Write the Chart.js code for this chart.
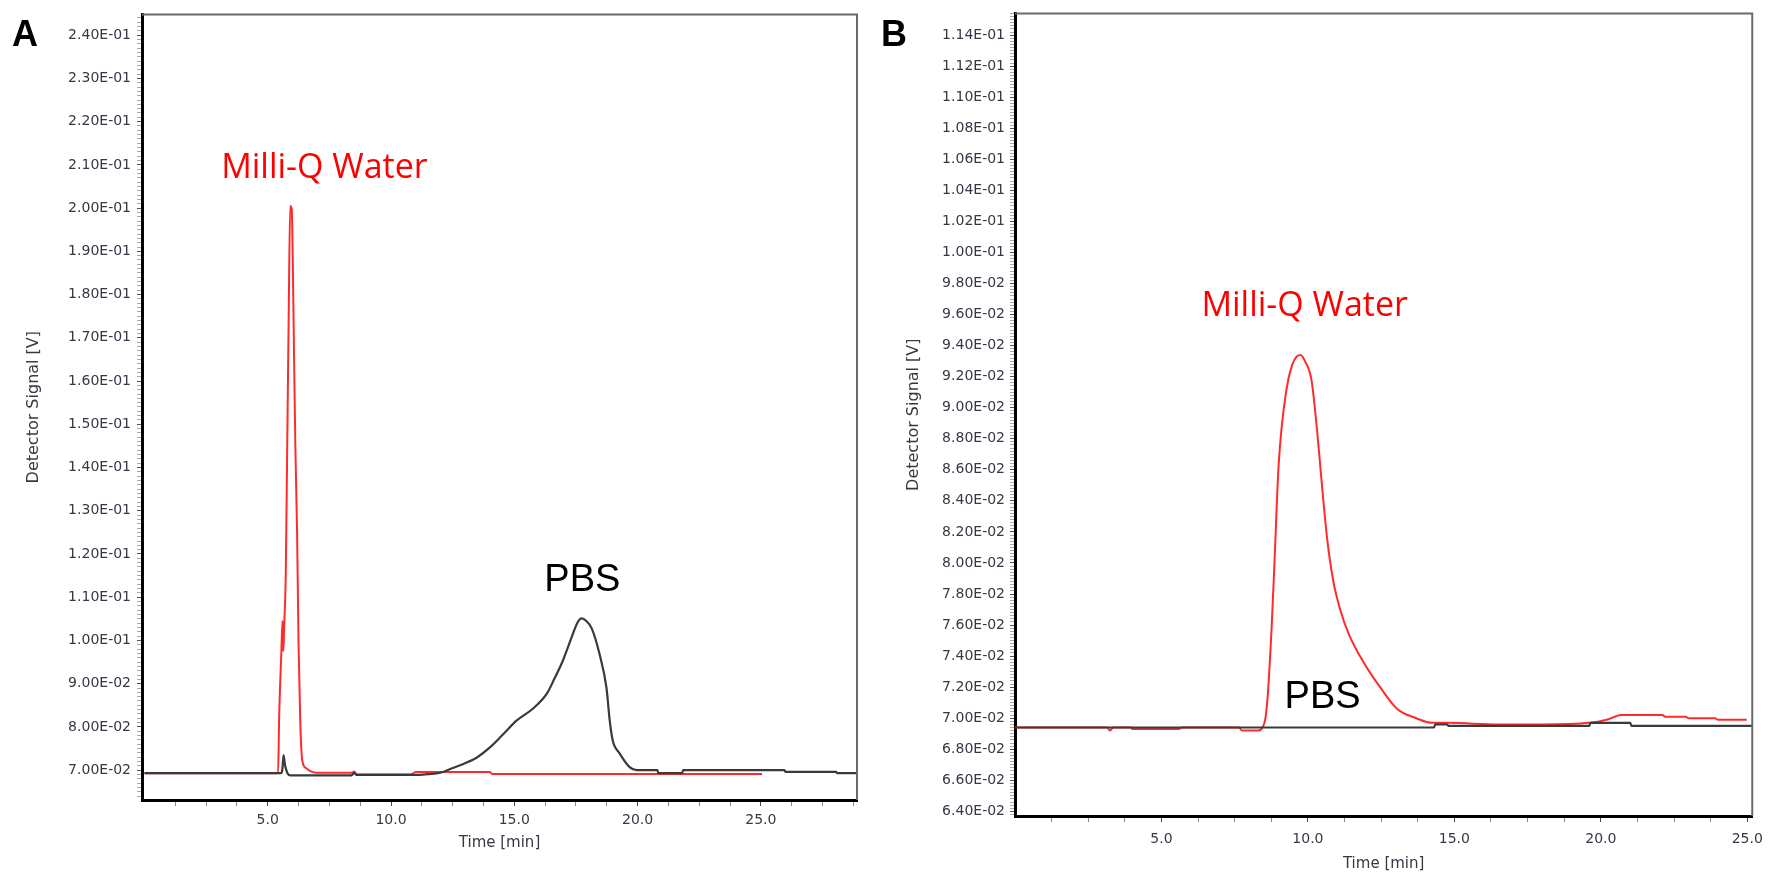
<!DOCTYPE html>
<html>
<head>
<meta charset="utf-8">
<script src="https://cdn.jsdelivr.net/npm/chart.js@4.4.1/dist/chart.umd.min.js"></script>
<style>
  html, body { margin: 0; padding: 0; background: #fff; }
  body { width: 1772px; height: 873px; position: relative; overflow: hidden; }
  canvas { position: absolute; top: 0; }
  #chartA { left: 0; }
  #chartB { left: 880px; }
</style>
</head>
<body>
<canvas id="chartA" width="880" height="873" style="width:880px;height:873px"></canvas>
<canvas id="chartB" width="892" height="873" style="width:892px;height:873px"></canvas>
<script>
// tick labels
const xMajorTicks = [5, 10, 15, 20, 25];
const aTicksY = [0.07, 0.08, 0.09, 0.10, 0.11, 0.12, 0.13, 0.14, 0.15, 0.16, 0.17, 0.18, 0.19, 0.20, 0.21, 0.22, 0.23, 0.24];
const bTicksY = [0.064, 0.066, 0.068, 0.070, 0.072, 0.074, 0.076, 0.078, 0.080, 0.082, 0.084, 0.086, 0.088,
                 0.090, 0.092, 0.094, 0.096, 0.098, 0.100, 0.102, 0.104, 0.106, 0.108, 0.110, 0.112, 0.114];

// panel A - PBS (black)
const aBlackT = [0, 5.55, 5.60, 5.64, 5.70, 5.80, 5.92, 8.40, 8.50, 8.60, 11.0, 11.5, 12.0, 12.5, 13.0, 13.5, 14.0, 14.5,
                 15.1, 15.75, 16.32, 16.64, 16.96, 17.37, 17.55, 17.73, 17.92, 18.14, 18.46, 18.74, 18.87, 18.99, 19.27, 19.68, 19.96,
                 20.8, 20.85, 21.8, 21.85, 25.95, 26.0, 28.05, 28.1, 28.9];
const aBlackV = [0.0693, 0.0693, 0.0705, 0.0735, 0.0712, 0.0693, 0.0688, 0.0688, 0.0694, 0.0689, 0.0689, 0.0691, 0.0694, 0.0705, 0.0716, 0.0730, 0.0752, 0.0780,
                 0.0815, 0.0842, 0.0877, 0.0913, 0.0952, 0.1014, 0.1040, 0.1051, 0.1045, 0.1028, 0.0968, 0.0890, 0.0815, 0.0769, 0.0739, 0.0707, 0.0700,
                 0.0700, 0.0693, 0.0693, 0.0700, 0.0700, 0.0696, 0.0696, 0.0693, 0.0693];

// panel A - Milli-Q Water (red)
const aRedT = [0, 5.42, 5.46, 5.55, 5.60, 5.63, 5.67, 5.73, 5.79, 5.85, 5.91, 5.97, 6.01, 6.05, 6.12, 6.19, 6.25, 6.32, 6.40, 6.55,
               6.75, 7.0, 8.42, 8.50, 8.62, 10.8, 11.0, 14.0, 14.1, 25.05];
const aRedV = [0.0693, 0.0693, 0.0815, 0.0970, 0.1045, 0.0975, 0.1040, 0.1150, 0.1450, 0.1750, 0.2005, 0.2000, 0.1900, 0.1730, 0.1450, 0.1250, 0.0990, 0.0810, 0.0723, 0.0705,
               0.0697, 0.0694, 0.0694, 0.0697, 0.0690, 0.0690, 0.0696, 0.0696, 0.0691, 0.0691];

// panel B - PBS (black)
const bBlackT = [0, 14.3, 14.35, 14.75, 14.8, 19.6, 19.65, 21.0, 21.05, 25.17];
const bBlackV = [0.0694, 0.0694, 0.0696, 0.0696, 0.0695, 0.0695, 0.0697, 0.0697, 0.0695, 0.0695];

// panel B - Milli-Q Water (red)
const bRedT = [0, 3.15, 3.24, 3.35, 3.95, 4.0, 5.6, 5.7, 7.65, 7.75, 8.3, 8.45, 8.55, 8.63, 8.76, 8.86, 9.0, 9.27, 9.47, 9.62,
               9.75, 9.90, 10.12, 10.30, 10.48, 10.66, 10.86, 11.1, 11.4, 11.9, 12.5, 13.05, 13.7, 14.25, 14.8, 16.5, 18.0, 19.6, 20.2,
               20.7, 22.1, 22.2, 22.9, 23.0, 23.9, 24.0, 24.98];
const bRedV = [0.0694, 0.0694, 0.0692, 0.0694, 0.0694, 0.0693, 0.0693, 0.0694, 0.0694, 0.0692, 0.0692, 0.0694, 0.0700, 0.0715, 0.0758, 0.0801, 0.0863, 0.0912, 0.0928, 0.0933,
               0.0934, 0.0930, 0.0918, 0.0888, 0.0850, 0.0815, 0.0789, 0.0770, 0.0754, 0.0736, 0.0719, 0.0706, 0.0700, 0.0697, 0.0697, 0.0696, 0.0696, 0.0697, 0.0699,
               0.0702, 0.0702, 0.0701, 0.0701, 0.0700, 0.0700, 0.0699, 0.0699];

const RED = '#ff2b2b';
const DARK = '#3a3a3a';
const TICK_TXT = '#3b3645';

function isIn(list, v) { return list.some(t => Math.abs(t - v) < 1e-9); }

function sci(v) {
  const parts = v.toExponential(2).split('e');
  const n = parseInt(parts[1], 10);
  return parts[0] + 'E' + (n < 0 ? '-' : '+') + String(Math.abs(n)).padStart(2, '0');
}

function stepTicks(min, max, step) {
  const out = [];
  const k0 = Math.ceil(min / step - 1e-9), k1 = Math.floor(max / step + 1e-9);
  for (let k = k0; k <= k1; k++) out.push(Math.round(k * step * 1e7) / 1e7);
  return out;
}

function toPoints(ts, vs) { return ts.map((t, i) => ({ x: t, y: vs[i] })); }

// top/right frame + text labels
const framePlugin = {
  id: 'frame',
  afterDraw(chart, args, opts) {
    const { ctx, chartArea: { left, top, right, bottom } } = chart;
    ctx.save();
    ctx.strokeStyle = '#6a6a6a';
    ctx.lineWidth = 2;
    ctx.beginPath();
    ctx.moveTo(left, top);
    ctx.lineTo(right, top);
    ctx.lineTo(right, bottom);
    ctx.stroke();
    const xs = chart.scales.x, ys = chart.scales.y;
    ctx.textAlign = 'center';
    ctx.textBaseline = 'middle';
    (opts.labels || []).forEach(l => {
      ctx.font = l.font;
      ctx.fillStyle = l.color;
      ctx.fillText(l.text, xs.getPixelForValue(l.x), ys.getPixelForValue(l.y));
    });
    if (opts.letter) {
      ctx.font = 'bold 36px "Liberation Sans", Arial, sans-serif';
      ctx.fillStyle = '#000';
      ctx.fillText(opts.letter.text, opts.letter.px, opts.letter.py);
    }
    ctx.restore();
  }
};

function buildChart(id, o) {
  const yVals = stepTicks(o.yMin, o.yMax, o.yStep);
  const xVals = stepTicks(0.5, o.xMax, 1.25);
  const line = (ts, vs, color, w) => ({
    data: toPoints(ts, vs), showLine: true, borderColor: color, borderWidth: w,
    pointRadius: 0, cubicInterpolationMode: 'monotone'
  });
  return new Chart(document.getElementById(id), {
    type: 'scatter',
    data: {
      datasets: [
        line(o.blackT, o.blackV, DARK, 2.2),
        line(o.redT, o.redV, RED, 2)
      ]
    },
    options: {
      responsive: false,
      animation: false,
      devicePixelRatio: 1,
      layout: { padding: { left: 0, top: 8, right: o.padRight, bottom: 0 } },
      plugins: {
        legend: { display: false },
        tooltip: { enabled: false },
        frame: { labels: o.labels, letter: o.letter }
      },
      scales: {
        x: {
          type: 'linear', min: o.xMin, max: o.xMax,
          afterBuildTicks: sc => { sc.ticks = xVals.map(v => ({ value: v })); },
          afterFit: sc => { sc.height = o.xHeight; },
          ticks: {
            autoSkip: false, maxRotation: 0, padding: o.xPad, color: TICK_TXT,
            font: { family: 'DejaVu Sans', size: 14 },
            callback: v => isIn(xMajorTicks, v) ? v.toFixed(1) : ''
          },
          grid: {
            drawOnChartArea: false, tickLength: 6,
            tickColor: c => (c.tick && isIn(xMajorTicks, c.tick.value)) ? '#444' : '#888'
          },
          border: { color: '#000', width: 3 },
          title: {
            display: true, text: 'Time [min]', color: TICK_TXT,
            font: { family: 'DejaVu Sans', size: 15 },
            padding: { top: 0, bottom: o.xTitlePad }
          }
        },
        y: {
          type: 'linear', min: o.yMin, max: o.yMax,
          afterBuildTicks: sc => { sc.ticks = yVals.map(v => ({ value: v })); },
          afterFit: sc => { sc.width = o.yWidth; },
          ticks: {
            autoSkip: false, padding: o.yPad, color: TICK_TXT,
            font: { family: 'DejaVu Sans', size: 14 },
            callback: v => isIn(o.yMajor, v) ? sci(v) : ''
          },
          grid: {
            drawOnChartArea: false, tickLength: 5,
            tickColor: c => (c.tick && isIn(o.yMajor, c.tick.value)) ? '#555' : '#aaa'
          },
          border: { color: '#000', width: 3 },
          title: {
            display: true, text: 'Detector Signal [V]', color: TICK_TXT,
            font: { family: 'DejaVu Sans', size: 16 },
            padding: { top: 24, bottom: 0 }
          }
        }
      }
    },
    plugins: [framePlugin]
  });
}

buildChart('chartA', {
  blackT: aBlackT, blackV: aBlackV, redT: aRedT, redV: aRedV,
  xMin: -0.1, xMax: 28.9, yMin: 0.0631, yMax: 0.2448, yStep: 0.001, yMajor: aTicksY,
  yWidth: 142, xHeight: 73, padRight: 23, xPad: 6, yPad: 6, xTitlePad: 21,
  labels: [
    { text: 'Milli-Q Water', x: 7.3, y: 0.2093, color: '#ff0000', font: '34px "Open Sans", sans-serif' },
    { text: 'PBS', x: 17.76, y: 0.1139, color: '#000', font: '38px "Liberation Sans", Arial, sans-serif' }
  ],
  letter: { text: 'A', px: 25, py: 36 }
});

buildChart('chartB', {
  blackT: bBlackT, blackV: bBlackV, redT: bRedT, redV: bRedV,
  xMin: 0, xMax: 25.17, yMin: 0.0637, yMax: 0.1154, yStep: 0.0002, yMajor: bTicksY,
  yWidth: 135, xHeight: 57, padRight: 19, xPad: 9, yPad: 5, xTitlePad: 0,
  labels: [
    { text: 'Milli-Q Water', x: 9.89, y: 0.09654, color: '#ff0000', font: '34px "Open Sans", sans-serif' },
    { text: 'PBS', x: 10.5, y: 0.07135, color: '#000', font: '38px "Liberation Sans", Arial, sans-serif' }
  ],
  letter: { text: 'B', px: 14, py: 36 }
});
</script>
</body>
</html>
